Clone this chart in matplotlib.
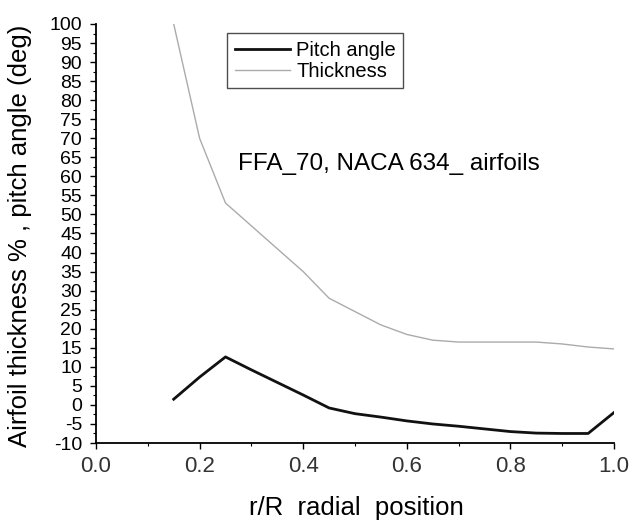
import matplotlib
matplotlib.use("Agg")
import matplotlib.pyplot as plt
from matplotlib.ticker import MultipleLocator

plt.rcParams['font.family'] = ['Liberation Sans', 'DejaVu Sans']

r_pitch = [0.15, 0.2, 0.25, 0.3, 0.35, 0.4, 0.45, 0.5, 0.55, 0.6, 0.65, 0.7, 0.75, 0.8, 0.85, 0.9, 0.95, 1.0]
pitch = [1.5, 7.3, 12.6, 9.2, 5.9, 2.6, -0.8, -2.3, -3.2, -4.2, -5.0, -5.6, -6.3, -7.0, -7.4, -7.5, -7.5, -2.0]

r_thick = [0.15, 0.2, 0.25, 0.3, 0.35, 0.4, 0.45, 0.5, 0.55, 0.6, 0.65, 0.7, 0.75, 0.8, 0.85, 0.9, 0.95, 1.0]
thickness = [100, 70, 53, 47, 41, 35, 28, 24.5, 21, 18.5, 17, 16.5, 16.5, 16.5, 16.5, 16, 15.2, 14.7]

fig = plt.figure(figsize=(6.33, 5.24), dpi=100)
ax = fig.add_axes([96/633, 1-443/524, (614-96)/633, (443-24)/524])

ax.plot(r_pitch, pitch, color='#111111', lw=2.0, label='Pitch angle')
ax.plot(r_thick, thickness, color='#ababab', lw=1.0, label='Thickness')

ax.set_xlim(0.0, 1.0)
ax.set_ylim(-10, 100)
ax.xaxis.set_major_locator(MultipleLocator(0.2))
ax.xaxis.set_minor_locator(MultipleLocator(0.1))
ax.yaxis.set_major_locator(MultipleLocator(5))
ax.yaxis.set_minor_locator(MultipleLocator(2.5))
ax.xaxis.set_major_formatter(plt.FuncFormatter(lambda v, p: f"{v:.1f}"))
ax.yaxis.set_major_formatter(plt.FuncFormatter(lambda v, p: f"{int(round(v))}"))

for s in ['top', 'right']:
    ax.spines[s].set_visible(False)
for s in ['left', 'bottom']:
    ax.spines[s].set_linewidth(1.3)

ax.tick_params(axis='y', which='major', direction='out', length=4.5, width=1, labelsize=14, pad=5.5)
ax.tick_params(axis='y', which='minor', direction='out', length=2, width=0.8)
ax.tick_params(axis='x', which='major', direction='out', length=4, width=1, labelsize=16, pad=5.5, labelcolor='#333333')
ax.tick_params(axis='x', which='minor', direction='out', length=2.5, width=0.8)

ax.set_xlabel('r/R  radial  position', fontsize=18.5)
ax.xaxis.label.set_va('baseline')
ax.xaxis.set_label_coords((356-96)/518, (443-515)/419)

ax.set_ylabel('Airfoil thickness % , pitch angle (deg)', fontsize=18.5)
ax.yaxis.label.set_va('center')
ax.yaxis.set_label_coords((20-96)/518, (443-236)/419)

leg = ax.legend(loc='upper left', bbox_to_anchor=((227-96)/518, 1-(33-24)/419),
                frameon=True, fancybox=False, edgecolor='#222222', fontsize=14.5,
                handlelength=2.75, handletextpad=0.3, borderpad=0.38, labelspacing=0.1,
                borderaxespad=0)
leg.get_frame().set_linewidth(1.0)

ax.text((238-96)/518, 1-(170-24)/419, 'FFA_70, NACA 634_ airfoils', transform=ax.transAxes,
        fontsize=17.5, va='baseline', ha='left')

fig.savefig('out.png', dpi=100)
